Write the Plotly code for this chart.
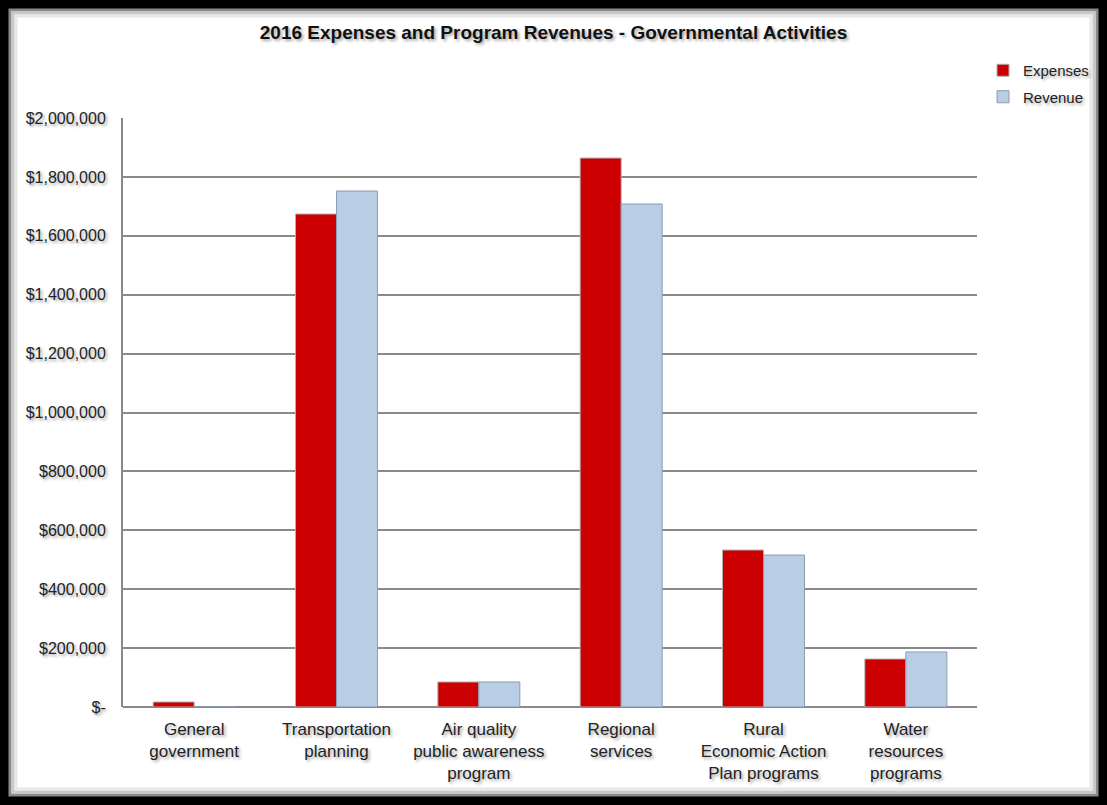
import plotly.graph_objects as go

categories = [
    "General<br>government",
    "Transportation<br>planning",
    "Air quality<br>public awareness<br>program",
    "Regional<br>services",
    "Rural<br>Economic Action<br>Plan programs",
    "Water<br>resources<br>programs",
]
expenses = [17000, 1674000, 85000, 1864000, 533000, 163000]
revenue = [0, 1752000, 85000, 1708000, 516000, 187000]

tick_vals = [0, 200000, 400000, 600000, 800000, 1000000, 1200000, 1400000, 1600000, 1800000, 2000000]
tick_text = ["$-", "$200,000", "$400,000", "$600,000", "$800,000", "$1,000,000",
             "$1,200,000", "$1,400,000", "$1,600,000", "$1,800,000", "$2,000,000"]

W, H = 1107, 805
L, R, T, B = 123, 130, 118, 98
pw, ph = W - L - R, H - T - B

def px_x(p):
    return (p - L) / pw

def px_y(p):
    return (H - B - p) / ph

shadow = "2px 2px 3px rgba(0,0,0,0.35)"
font_family = "Liberation Sans, Arial, sans-serif"

fig = go.Figure()
fig.add_trace(go.Bar(
    x=categories, y=expenses, name="Expenses", legendgroup="e",
    marker=dict(color="#CC0000", line=dict(color="#B0B0B0", width=1)),
))
fig.add_trace(go.Bar(
    x=categories, y=revenue, name="Revenue", legendgroup="r",
    marker=dict(color="#B9CDE5", line=dict(color="#8C9CB4", width=1)),
))

shapes = [
    dict(type="rect", xref="paper", yref="paper", layer="below",
         x0=px_x(10), x1=px_x(1097), y0=px_y(795), y1=px_y(10),
         fillcolor="white", line=dict(color="#8a8a8a", width=3)),
    dict(type="rect", xref="paper", yref="paper", layer="below",
         x0=px_x(13), x1=px_x(1094), y0=px_y(792), y1=px_y(13),
         fillcolor="rgba(0,0,0,0)", line=dict(color="#c8c8c8", width=3)),
    dict(type="rect", xref="paper", yref="paper", layer="below",
         x0=px_x(16), x1=px_x(1091), y0=px_y(789), y1=px_y(16),
         fillcolor="rgba(0,0,0,0)", line=dict(color="#e8e8e8", width=3)),
]

fig.update_layout(
    width=W, height=H,
    margin=dict(l=L, r=R, t=T, b=B, pad=0, autoexpand=False),
    paper_bgcolor="black",
    plot_bgcolor="white",
    shapes=shapes,
    barmode="group",
    bargap=0.424,
    bargroupgap=0,
    font=dict(family=font_family, color="#222222", size=16),
    title=dict(
        text="<b>2016 Expenses and Program Revenues - Governmental Activities</b>",
        x=0.5, xref="container", xanchor="center",
        y=1 - 32 / H, yref="container", yanchor="middle",
        font=dict(size=19, color="#111111", family=font_family, shadow=shadow),
    ),
    legend=dict(
        xref="container", yref="container",
        x=983 / W, y=1 - 54 / H, xanchor="left", yanchor="top",
        bgcolor="rgba(0,0,0,0)",
        font=dict(size=15, color="#222222", family=font_family, shadow=shadow),
        itemwidth=30, tracegroupgap=4, traceorder="grouped",
    ),
    xaxis=dict(
        showgrid=False, showline=False, ticks="",
        tickfont=dict(size=17, color="#222222", shadow=shadow),
        tickangle=0, automargin=False, ticklabelstandoff=10,
    ),
    yaxis=dict(
        range=[0, 2000000],
        tickvals=tick_vals, ticktext=tick_text,
        showgrid=True, gridcolor="#8a8a8a", gridwidth=2,
        zeroline=True, zerolinecolor="#8a8a8a", zerolinewidth=2,
        showline=True, linecolor="#8a8a8a", linewidth=2,
        ticks="", ticklabelstandoff=12, automargin=False,
        tickfont=dict(size=16, color="#222222", shadow=shadow),
    ),
)

fig.write_html(
    "out.html",
    config={"displayModeBar": False},
    post_script="document.body.style.margin='0';document.body.style.background='black';",
)
